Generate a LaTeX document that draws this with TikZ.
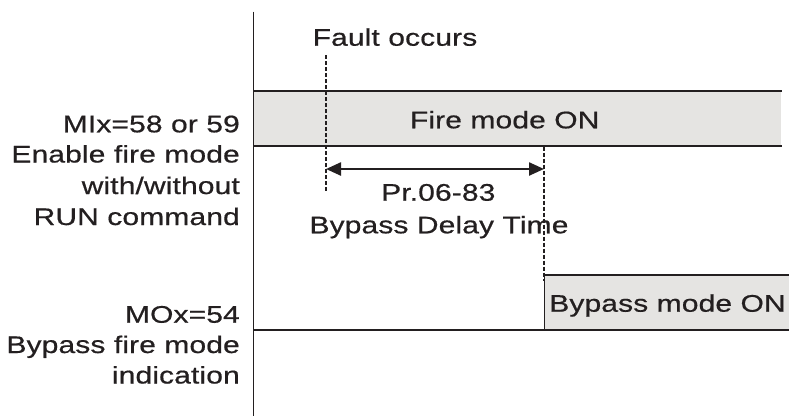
\documentclass[tikz,border=0pt]{standalone}
\usepackage{fontspec}
\setmainfont{Liberation Sans}[FakeStretch=1.25,LetterSpace=0.5,FakeBold=0.6]
\usetikzlibrary{arrows.meta}
\definecolor{ink}{HTML}{231F20}
\definecolor{bandfill}{HTML}{E5E4E2}
\begin{document}
\begin{tikzpicture}[x=1pt,y=-1pt,
  txt/.style={inner sep=0pt,text=ink,font=\fontsize{24}{31}\selectfont},
  lbl/.style={txt,anchor=base east},
  ctr/.style={txt,anchor=base},
  edge/.style={draw=ink,line width=2pt},
  thinedge/.style={draw=ink,line width=1.3pt},
  dashline/.style={draw=ink,line width=2.5pt,dash pattern=on 4pt off 2pt},
  dimarrow/.style={draw=ink,line width=2.4pt,{Triangle[length=15pt,width=13pt]}-{Triangle[length=15pt,width=13pt]}}]
\useasboundingbox (0,0) rectangle (789,416);
% fire mode band
\fill[bandfill] (253,90.7) rectangle (781,145.7);
\draw[edge] (253,90.7) -- (782,90.7);
\draw[edge] (253,145.7) -- (782,145.7);
% bypass band
\fill[bandfill] (544,275) rectangle (789,330);
\draw[thinedge] (544,275) -- (789,275);
\draw[draw=ink,line width=0.8pt] (544,275) -- (544,330);
\draw[thinedge] (253,330) -- (789,330);
% axis
\coordinate (axtop) at (253.3,11.7);
\coordinate (axbot) at (253.3,416);
\draw[thinedge] (axtop) -- (axbot);
% texts
\node[ctr] (fault) at (395,45.7) {Fault occurs};
\node[ctr] (fireon) at (504.7,128.3) {Fire mode ON};
\node[ctr] (pr) at (438.3,200.7) {Pr.06-83};
\node[ctr] (bdt) at (439,233.3) {Bypass Delay Time};
\node[ctr] (byon) at (667.5,311.7) {Bypass mode ON};
\node[lbl] (l1) at (240,132.3) {MIx=58 or 59};
\node[lbl] (l2) at (240,162.5) {Enable fire mode};
\node[lbl] (l3) at (240,194) {with/without};
\node[lbl] (l4) at (240,225) {RUN command};
\node[lbl] (m1) at (240,322.7) {MOx=54};
\node[lbl] (m2) at (240,353) {Bypass fire mode};
\node[lbl] (m3) at (240,383.5) {indication};
% dashed markers
\coordinate (d1top) at (326,55);
\coordinate (d1bot) at (326,191.7);
\coordinate (d2top) at (544,146.7);
\coordinate (d2bot) at (544,281);
\draw[dashline] (d1top) -- (d1bot);
\draw[dashline] (d2top) -- (d2bot);
% delay arrow
\coordinate (a1) at (326,169);
\coordinate (a2) at (544,169);
\draw[dimarrow] (a1) -- (a2);
\end{tikzpicture}
\end{document}
